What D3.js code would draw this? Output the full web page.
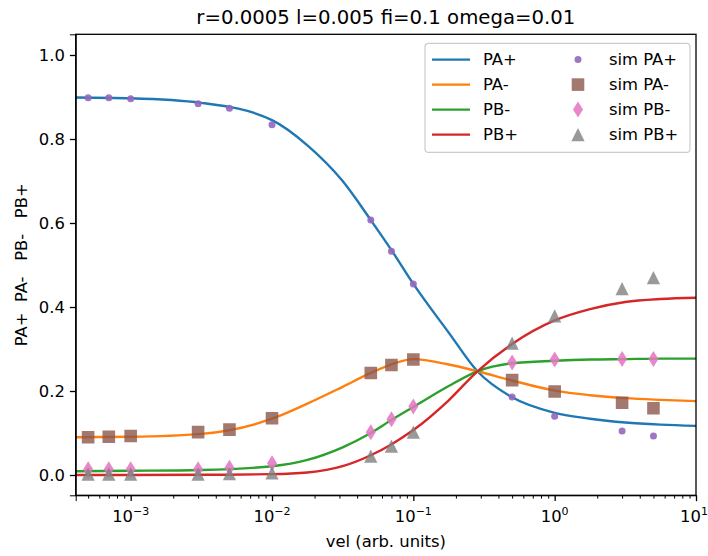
<!DOCTYPE html>
<html>
<head>
<meta charset="utf-8">
<script src="https://cdn.jsdelivr.net/npm/d3@7"></script>
<style>
  body { margin: 0; background: #fff; }
  svg { font-family: "DejaVu Sans", sans-serif; }
</style>
</head>
<body>
<div id="chart"></div>
<script>
// simulated points
var simVel = [5e-4, 7e-4, 1e-3, 3e-3, 5e-3, 1e-2, 5e-2, 7e-2, 1e-1, 5e-1, 1, 3, 5];
var simPAplus = [0.898, 0.898, 0.896, 0.884, 0.873, 0.834, 0.607, 0.533, 0.455, 0.186, 0.140, 0.105, 0.093];
var simPAminus = [0.090, 0.091, 0.093, 0.102, 0.108, 0.135, 0.243, 0.262, 0.275, 0.226, 0.199, 0.172, 0.159];
var simPBminus = [0.014, 0.014, 0.014, 0.014, 0.017, 0.028, 0.102, 0.133, 0.163, 0.268, 0.275, 0.276, 0.276];
var simPBplus = [0.002, 0.002, 0.002, 0.002, 0.003, 0.005, 0.045, 0.069, 0.102, 0.314, 0.379, 0.444, 0.470];

// model curves
var curveVel = [4.08e-4, 1e-3, 3.16e-3, 1e-2, 1.78e-2, 3.16e-2, 5e-2, 7.08e-2, 0.1, 0.178, 0.284, 0.5, 1, 1.78, 3.16, 5.62, 10];
var curvePAplus = [0.899, 0.897, 0.886, 0.845, 0.785, 0.700, 0.607, 0.533, 0.455, 0.339, 0.247, 0.185, 0.148, 0.134, 0.125, 0.120, 0.117];
var curvePAminus = [0.090, 0.091, 0.098, 0.134, 0.170, 0.210, 0.243, 0.264, 0.276, 0.263, 0.247, 0.225, 0.201, 0.190, 0.183, 0.179, 0.176];
var curvePBminus = [0.009, 0.010, 0.012, 0.021, 0.036, 0.066, 0.100, 0.132, 0.162, 0.212, 0.247, 0.266, 0.272, 0.275, 0.276, 0.277, 0.277];
var curvePBplus = [0.000, 0.000, 0.0005, 0.002, 0.006, 0.021, 0.047, 0.074, 0.107, 0.178, 0.247, 0.312, 0.368, 0.395, 0.412, 0.419, 0.422];

var xTicks = [1e-3, 1e-2, 1e-1, 1, 10];
var yTicks = [0.0, 0.2, 0.4, 0.6, 0.8, 1.0];

var svgWidth = 708;
var svgHeight = 556;
var margin = { top: 34.3, right: 12, bottom: 60.7, left: 75.7 };
var width = svgWidth - margin.left - margin.right;
var height = svgHeight - margin.top - margin.bottom;

var svg = d3.select("#chart").append("svg")
  .attr("width", svgWidth)
  .attr("height", svgHeight);

var chartGroup = svg.append("g")
  .attr("transform", `translate(${margin.left}, ${margin.top})`);

var x = d3.scaleLog().domain([Math.pow(10, -3.389), 10]).range([0, width]);
var y = d3.scaleLinear().domain([-0.0483, 1.0493]).range([height, 0]);

svg.append("defs").append("clipPath").attr("id", "clip")
  .append("rect").attr("width", width).attr("height", height);

var plot = chartGroup.append("g").attr("clip-path", "url(#clip)");

var lines = [
  { name: "PA+", vals: curvePAplus, color: "#1f77b4" },
  { name: "PA-", vals: curvePAminus, color: "#ff7f0e" },
  { name: "PB-", vals: curvePBminus, color: "#2ca02c" },
  { name: "PB+", vals: curvePBplus, color: "#d62728" }
];

var lineGen = d3.line()
  .x(d => x(d[0]))
  .y(d => y(d[1]))
  .curve(d3.curveMonotoneX);

lines.forEach(function(l) {
  plot.append("path")
    .datum(curveVel.map((v, i) => [v, l.vals[i]]))
    .attr("fill", "none")
    .attr("stroke", l.color)
    .attr("stroke-width", 2.4)
    .attr("d", lineGen);
});

// marker shapes
function markerPath(kind) {
  if (kind === "square") return "M-6.3,-6.3H6.3V6.3H-6.3Z";
  if (kind === "diamond") return "M0,-8L5,0L0,8L-5,0Z";
  if (kind === "triangle") return "M0,-6.6L6.6,6.6L-6.6,6.6Z";
  return null;
}

var sims = [
  { name: "sim PA+", vals: simPAplus, color: "#9467bd", kind: "dot" },
  { name: "sim PA-", vals: simPAminus, color: "#8c564b", kind: "square" },
  { name: "sim PB-", vals: simPBminus, color: "#e377c2", kind: "diamond" },
  { name: "sim PB+", vals: simPBplus, color: "#7f7f7f", kind: "triangle" }
];

function drawMarker(g, kind, color) {
  if (kind === "dot") {
    g.append("circle").attr("r", 3.5).attr("fill", color).attr("opacity", 0.9);
  } else {
    g.append("path").attr("d", markerPath(kind)).attr("fill", color).attr("opacity", kind === "diamond" ? 0.88 : 0.8);
  }
}

sims.forEach(function(s) {
  simVel.forEach(function(v, i) {
    var g = plot.append("g")
      .attr("transform", `translate(${x(v)}, ${y(s.vals[i])})`);
    drawMarker(g, s.kind, s.color);
  });
});

// axes
var xAxis = chartGroup.append("g")
  .attr("transform", `translate(0, ${height})`)
  .call(d3.axisBottom(x).tickValues(xTicks).tickSize(5.8).tickPadding(5).tickFormat(""));

var minor = [];
[-4, -3, -2, -1, 0].forEach(function(e) {
  for (var k = 2; k <= 9; k++) {
    var v = k * Math.pow(10, e);
    if (v > x.domain()[0] && v < 10) minor.push(v);
  }
});
chartGroup.append("g")
  .attr("transform", `translate(0, ${height})`)
  .call(d3.axisBottom(x).tickValues(minor).tickSize(3.3).tickFormat(""))
  .call(g => g.select(".domain").remove());

xTicks.forEach(function(t, i) {
  var e = Math.round(Math.log10(t));
  var txt = chartGroup.append("text")
    .attr("x", x(t) - (i === xTicks.length - 1 ? 2 : 0))
    .attr("y", height + 27)
    .attr("text-anchor", "middle")
    .attr("font-size", 16.4)
    .attr("fill", "#000");
  txt.append("tspan").text("10");
  txt.append("tspan")
    .attr("dy", -7)
    .attr("font-size", 11)
    .text(e < 0 ? "\u2212" + Math.abs(e) : String(e));
});

var yAxis = chartGroup.append("g")
  .call(d3.axisLeft(y).tickValues(yTicks).tickSize(5.8).tickPadding(5).tickFormat(d3.format(".1f")));

[xAxis, yAxis].forEach(function(a) {
  a.selectAll("text").attr("font-size", 16.4).attr("font-family", "DejaVu Sans").attr("fill", "#000");
  a.selectAll("line").attr("stroke-width", 1.3);
});
chartGroup.selectAll(".tick line").attr("stroke", "#000");

// frame
chartGroup.append("rect")
  .attr("width", width).attr("height", height)
  .attr("fill", "none").attr("stroke", "#000").attr("stroke-width", 1.3);

// labels
svg.append("text")
  .attr("x", margin.left + width / 2)
  .attr("y", 24)
  .attr("text-anchor", "middle")
  .attr("font-size", 19.7)
  .text("r=0.0005 l=0.005 fi=0.1 omega=0.01");

svg.append("text")
  .attr("x", margin.left + width / 2)
  .attr("y", 547)
  .attr("text-anchor", "middle")
  .attr("font-size", 16.4)
  .text("vel (arb. units)");

svg.append("text")
  .attr("transform", `translate(27, ${margin.top + height / 2}) rotate(-90)`)
  .attr("text-anchor", "middle")
  .attr("font-size", 16.4)
  .style("white-space", "pre")
  .text("PA+  PA-   PB-   PB+");

// legend
var legend = svg.append("g").attr("transform", "translate(425, 43.4)");
legend.append("rect")
  .attr("width", 265).attr("height", 109)
  .attr("rx", 3.5)
  .attr("fill", "#fff").attr("fill-opacity", 0.8)
  .attr("stroke", "#ccc").attr("stroke-width", 1.2);

lines.forEach(function(l, i) {
  var ry = 16.2 + i * 25;
  legend.append("line")
    .attr("x1", 7).attr("x2", 45).attr("y1", ry).attr("y2", ry)
    .attr("stroke", l.color).attr("stroke-width", 2.4);
  legend.append("text")
    .attr("x", 58).attr("y", ry).attr("dy", "0.36em")
    .attr("font-size", 16.4).text(l.name);
});

sims.forEach(function(s, i) {
  var ry = 16.2 + i * 25;
  var g = legend.append("g").attr("transform", `translate(153, ${ry})`);
  drawMarker(g, s.kind, s.color);
  legend.append("text")
    .attr("x", 184).attr("y", ry).attr("dy", "0.36em")
    .attr("font-size", 16.4).text(s.name);
});
</script>
</body>
</html>
